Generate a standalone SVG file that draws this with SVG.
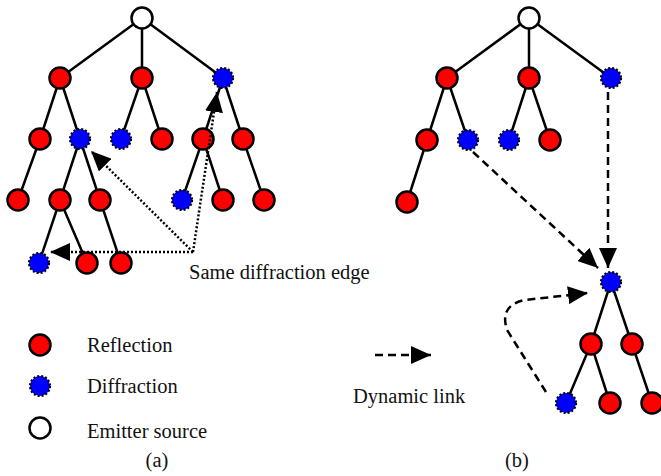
<svg xmlns="http://www.w3.org/2000/svg" width="661" height="476" viewBox="0 0 661 476">
<style>
.e{stroke:#000;stroke-width:2.5;fill:none}
.r{fill:#f00;stroke:#000;stroke-width:2.5}
.d{fill:#00f;stroke:#000;stroke-width:2.2;stroke-dasharray:2 2}
.s{fill:#fff;stroke:#000;stroke-width:2.5}
.dot{stroke:#000;stroke-width:2.5;fill:none;stroke-dasharray:2 2}
.dash{stroke:#000;stroke-width:2.5;fill:none;stroke-dasharray:8 5}
text{font-family:"Liberation Serif","Times New Roman",serif;font-size:20.5px;fill:#111}
</style>
<defs>
<marker id="ah" markerUnits="userSpaceOnUse" markerWidth="21" markerHeight="18" refX="20" refY="9" orient="auto"><path d="M0,0 L20,9 L0,18 z" fill="#000"/></marker>
</defs>
<g id="edges">
<path class="e" d="M142,18 L60,78 M142,18 L142,78 M142,18 L223,78 M60,78 L40,139 M60,78 L80,139 M142,78 L121,139 M142,78 L162,139 M223,78 L203,139 M223,78 L243,139 M40,139 L18,200 M80,139 L60,200 M80,139 L100,200 M203,139 L182,200 M203,139 L223,200 M243,139 L264,200 M60,200 L39,263 M60,200 L87,263 M100,200 L121,263"/>
<path class="e" d="M529,18 L447,78 M529,18 L529,78 M529,18 L611,78 M447,78 L427,140 M447,78 L468,140 M529,78 L509,140 M529,78 L550,140 M427,140 L407,202"/>
<path class="e" d="M611,282 L591,344 M611,282 L632,344 M591,344 L566,403 M591,344 L610,403 M632,344 L652,403"/>
</g>
<g id="nodes-a">
<circle id="a0" class="s" cx="142" cy="18" r="10.5"/>
<circle id="a1" class="r" cx="60" cy="78" r="10.5"/>
<circle id="a2" class="r" cx="142" cy="78" r="10.5"/>
<circle id="a3" class="d" cx="223" cy="78" r="10"/>
<circle id="a4" class="r" cx="40" cy="139" r="10.5"/>
<circle id="a5" class="d" cx="80" cy="139" r="10"/>
<circle id="a6" class="d" cx="121" cy="139" r="10"/>
<circle id="a7" class="r" cx="162" cy="139" r="10.5"/>
<circle id="a8" class="r" cx="203" cy="139" r="10.5"/>
<circle id="a9" class="r" cx="243" cy="139" r="10.5"/>
<circle id="a10" class="r" cx="18" cy="200" r="10.5"/>
<circle id="a11" class="r" cx="60" cy="200" r="10.5"/>
<circle id="a12" class="r" cx="100" cy="200" r="10.5"/>
<circle id="a13" class="d" cx="182" cy="200" r="10"/>
<circle id="a14" class="r" cx="223" cy="200" r="10.5"/>
<circle id="a15" class="r" cx="264" cy="200" r="10.5"/>
<circle id="a16" class="d" cx="39" cy="263" r="10"/>
<circle id="a17" class="r" cx="87" cy="263" r="10.5"/>
<circle id="a18" class="r" cx="121" cy="263" r="10.5"/>
</g>
<g id="nodes-b">
<circle id="b0" class="s" cx="529" cy="18" r="10.5"/>
<circle id="b1" class="r" cx="447" cy="78" r="10.5"/>
<circle id="b2" class="r" cx="529" cy="78" r="10.5"/>
<circle id="b3" class="d" cx="611" cy="78" r="10"/>
<circle id="b4" class="r" cx="427" cy="140" r="10.5"/>
<circle id="b5" class="d" cx="468" cy="140" r="10"/>
<circle id="b6" class="d" cx="509" cy="140" r="10"/>
<circle id="b7" class="r" cx="550" cy="140" r="10.5"/>
<circle id="b8" class="r" cx="407" cy="202" r="10.5"/>
<circle id="c0" class="d" cx="611" cy="282" r="10"/>
<circle id="c1" class="r" cx="591" cy="344" r="10.5"/>
<circle id="c2" class="r" cx="632" cy="344" r="10.5"/>
<circle id="c3" class="d" cx="566" cy="403" r="10"/>
<circle id="c4" class="r" cx="610" cy="403" r="10.5"/>
<circle id="c5" class="r" cx="652" cy="403" r="10.5"/>
</g>
<g id="connectors">
<path class="dot" d="M193,252 L50,252" marker-end="url(#ah)"/>
<path class="dot" d="M193,252 L91,151" marker-end="url(#ah)"/>
<path class="dot" d="M193,252 L217,92" marker-end="url(#ah)"/>
<path class="dash" d="M473,152 L598,268" marker-end="url(#ah)"/>
<path class="dash" d="M608,92 L608,268" marker-end="url(#ah)"/>
<path class="dash" d="M546,392 L507,330 Q499,305 525,300 L588,293" marker-end="url(#ah)"/>
</g>
<g id="legend">
<circle class="r" cx="40" cy="345" r="10.5"/>
<circle class="d" cx="40" cy="386" r="10"/>
<circle class="s" cx="40" cy="428" r="10.5"/>
<text x="87" y="352">Reflection</text>
<text x="87" y="393">Diffraction</text>
<text x="87" y="438">Emitter source</text>
<path class="dash" d="M375,355 L431,355" marker-end="url(#ah)"/>
<text x="353" y="403">Dynamic link</text>
</g>
<text x="189" y="279">Same diffraction edge</text>
<text x="157" y="467" text-anchor="middle">(a)</text>
<text x="517" y="467" text-anchor="middle">(b)</text>
</svg>
